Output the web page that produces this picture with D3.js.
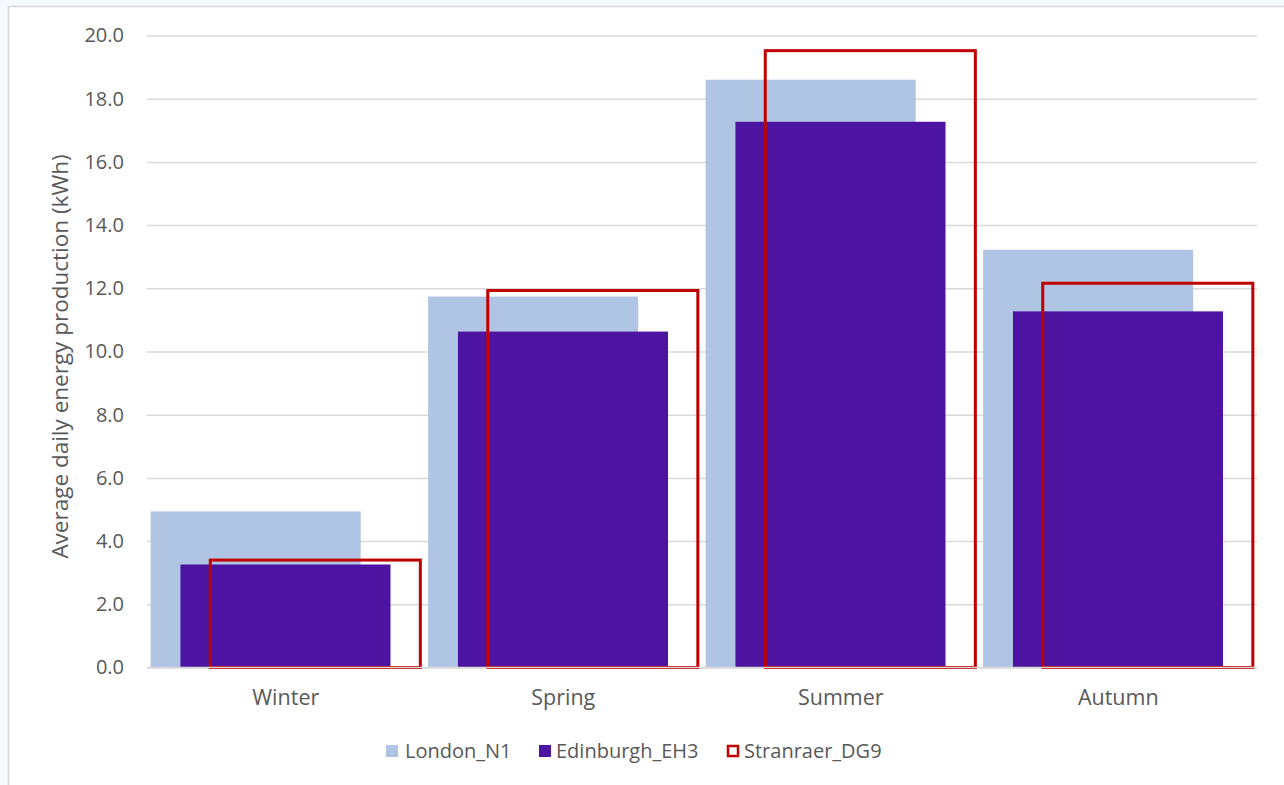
<!DOCTYPE html>
<html>
<head>
<meta charset="utf-8">
<script src="https://cdn.jsdelivr.net/npm/d3@7"></script>
<style>
  body { margin: 0; background: #f5f8fc; }
  svg { display: block; }
  text { font-family: "Open Sans", "Noto Sans", sans-serif; fill: #595959; }
</style>
</head>
<body>
<div class="canvas"></div>
<script>
// data
const seasons = ['Winter', 'Spring', 'Summer', 'Autumn']
const series = ['London_N1', 'Edinburgh_EH3', 'Stranraer_DG9']
const london = [4.94, 11.74, 18.60, 13.22]
const edinburgh = [3.26, 10.63, 17.27, 11.27]
const stranraer = [3.40, 11.93, 19.52, 12.16]
const yTicks = [0, 2, 4, 6, 8, 10, 12, 14, 16, 18, 20]

const values = { London_N1: london, Edinburgh_EH3: edinburgh, Stranraer_DG9: stranraer }

// 1 - dimensions
const dims = { width: 1284, height: 785 }
const plot = { left: 147, right: 1257, top: 35.5, bottom: 667.5 }

const svg = d3.select('.canvas')
    .append('svg')
    .attr('width', dims.width)
    .attr('height', dims.height)

// chart frame
svg.append('rect')
    .attr('x', 8.5).attr('y', 6.5)
    .attr('width', 1300).attr('height', 800)
    .attr('fill', '#fff')
    .attr('stroke', '#d9d9d9')
    .attr('stroke-width', 1.5)

// 2 - scales
const x0 = d3.scaleBand()
    .domain(seasons)
    .range([plot.left, plot.right])

const bw = x0.bandwidth()
const x1 = d3.scalePoint()
    .domain(series)
    .range([0.013 * bw, 0.228 * bw])
const barW = 0.757 * bw

const y = d3.scaleLinear()
    .domain([0, 20])
    .range([plot.bottom, plot.top])

const color = d3.scaleOrdinal()
    .domain(series)
    .range(['#b0c5e3', '#4c14a1', '#c00000'])

// 3 - gridlines + y axis
const yAxis = d3.axisLeft(y)
    .tickValues(yTicks)
    .tickFormat(d3.format('.1f'))
    .tickSize(-(plot.right - plot.left))
    .tickPadding(23)

const yG = svg.append('g')
    .attr('transform', `translate(${plot.left}, 0)`)
    .call(yAxis)
yG.select('.domain').remove()
yG.selectAll('line').attr('stroke', '#d9d9d9').attr('stroke-width', 1.5)
yG.selectAll('text')
    .style('font-family', '"Open Sans", "Noto Sans", sans-serif')
    .style('font-size', '20px')
    .attr('fill', '#595959')

// y title
svg.append('text')
    .attr('transform', `translate(68, ${(plot.top + plot.bottom) / 2 + 5}) rotate(-90)`)
    .attr('text-anchor', 'middle')
    .style('font-size', '22.5px')
    .text('Average daily energy production (kWh)')

// x axis labels
const xAxis = d3.axisBottom(x0).tickSize(0).tickPadding(22)
const xG = svg.append('g')
    .attr('transform', `translate(0, ${plot.bottom})`)
    .call(xAxis)
xG.select('.domain').remove()
xG.selectAll('text')
    .style('font-family', '"Open Sans", "Noto Sans", sans-serif')
    .style('font-size', '21.5px')
    .attr('fill', '#595959')

// 4 - bars
const groups = svg.append('g')
    .selectAll('g')
    .data(series)
    .join('g')

groups.each(function(s) {
    const g = d3.select(this)
    const rows = seasons.map((c, i) => ({ c, v: values[s][i] }))
    if (s === 'Stranraer_DG9') {
        g.selectAll('rect').data(rows).join('rect')
            .attr('x', d => x0(d.c) + x1(s))
            .attr('y', d => y(d.v))
            .attr('width', barW)
            .attr('height', d => y(0) - y(d.v))
            .attr('fill', 'none')
            .attr('stroke', color(s))
            .attr('stroke-width', 3)
    } else {
        g.selectAll('rect').data(rows).join('rect')
            .attr('x', d => x0(d.c) + x1(s))
            .attr('y', d => y(d.v))
            .attr('width', barW)
            .attr('height', d => y(0) - y(d.v))
            .attr('fill', color(s))
    }
})

// baseline
svg.append('line')
    .attr('x1', plot.left).attr('x2', plot.right)
    .attr('y1', y(0)).attr('y2', y(0))
    .attr('stroke', '#d9d9d9').attr('stroke-width', 1.5)

// 5 - legend
const legendItems = [
    { s: 'London_N1', x: 386 },
    { s: 'Edinburgh_EH3', x: 539 },
    { s: 'Stranraer_DG9', x: 727 }
]
const legend = svg.append('g')
    .selectAll('g')
    .data(legendItems)
    .join('g')
    .attr('transform', d => `translate(${d.x}, 751)`)

legend.append('rect')
    .attr('x', d => d.s === 'Stranraer_DG9' ? 1 : 0)
    .attr('y', d => d.s === 'Stranraer_DG9' ? -5 : -6)
    .attr('width', d => d.s === 'Stranraer_DG9' ? 10 : 12)
    .attr('height', d => d.s === 'Stranraer_DG9' ? 10 : 12)
    .attr('fill', d => d.s === 'Stranraer_DG9' ? '#fff' : color(d.s))
    .attr('stroke', d => d.s === 'Stranraer_DG9' ? color(d.s) : 'none')
    .attr('stroke-width', 2.5)

legend.append('text')
    .attr('x', d => d.s === 'London_N1' ? 19 : 17)
    .attr('dy', '0.35em')
    .style('font-size', '20px')
    .text(d => d.s)
</script>
</body>
</html>
